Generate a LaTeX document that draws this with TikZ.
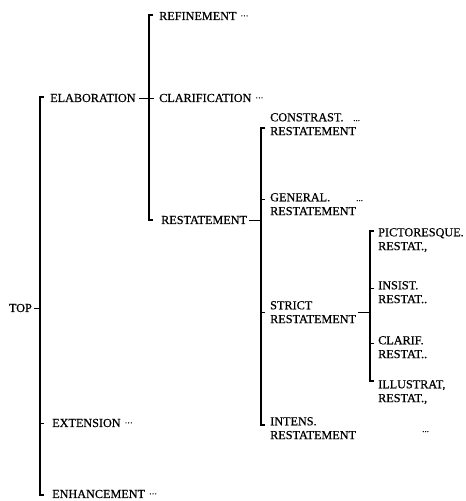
\documentclass[tikz,border=0pt]{standalone}
\usepackage{fontspec}
\setmainfont{Liberation Serif}[FakeBold=0.6]
\newcommand\mydots{\kern4pt\raisebox{1.5pt}{\fontsize{8}{8}\selectfont\char"B7\char"B7\char"B7}}
\begin{document}
\begin{tikzpicture}[x=1pt,y=-1pt,
  lblone/.style={anchor=west,inner sep=0pt,font=\fontsize{12.2}{13.5}\selectfont},
  lbltwo/.style={anchor=north west,inner sep=0pt,align=left,font=\fontsize{12.2}{13.8}\selectfont},
  dotlbl/.style={anchor=base west,inner sep=0pt,font=\fontsize{9}{9}\selectfont},
  bar/.style={line width=1.1pt},
  tick/.style={line width=0.7pt}]
\useasboundingbox (0,0) rectangle (466,501);

% level 0
\node[lblone,anchor=east] (top) at (32,308) {TOP};
\coordinate (b1t) at (40,97);
\coordinate (b1b) at (40,495);
\draw[bar] ([xshift=4pt]b1t) -- (b1t) -- (b1b) -- ([xshift=4pt]b1b);
\draw[tick] ([xshift=2pt]top.east) -- (top.east -| b1t);

% level 1
\node[lblone] (elab) at (50,98) {ELABORATION};
\node[lblone] (ext) at (52,423) {EXTENSION\mydots};
\node[lblone] (enh) at (52,494) {ENHANCEMENT\mydots};
\draw[tick] (ext.west -| b1t) -- ++(4,0);

% level 2
\coordinate (b2t) at (149,15);
\coordinate (b2b) at (149,220);
\draw[bar] ([xshift=4pt]b2t) -- (b2t) -- (b2b) -- ([xshift=4pt]b2b);
\draw[tick] ([xshift=3pt]elab.east) -- ([xshift=5pt]elab.east -| b2t);
\node[lblone] (ref) at (159,16) {REFINEMENT\mydots};
\node[lblone] (cla) at (159,98) {CLARIFICATION\mydots};
\node[lblone] (rst) at (161,220) {RESTATEMENT};

% level 3
\coordinate (b3t) at (261,128);
\coordinate (b3b) at (261,425);
\draw[bar] ([xshift=4pt]b3t) -- (b3t) -- (b3b) -- ([xshift=4pt]b3b);
\draw[tick] ([xshift=2pt]rst.east) -- (rst.east -| b3t);
\node[lbltwo] (con) at (270,113) {CONSTRAST.\\RESTATEMENT};
\node[dotlbl] (condots) at (353,121) {...};
\node[lbltwo] (gen) at (270,193) {GENERAL.\\RESTATEMENT};
\node[dotlbl] (gendots) at (356,201) {...};
\node[lbltwo] (str) at (270,301) {STRICT\\RESTATEMENT};
\node[lbltwo] (int) at (270,417) {INTENS.\\RESTATEMENT};
\node[dotlbl] (intdots) at (422,432) {...};
\coordinate (b3g) at (261,199);
\coordinate (b3s) at (261,312);
\draw[tick] (b3g) -- ++(4,0);
\draw[tick] (b3s) -- ++(4,0);

% level 4
\coordinate (b4t) at (370,231);
\coordinate (b4b) at (370,381);
\draw[bar] ([xshift=4pt]b4t) -- (b4t) -- (b4b) -- ([xshift=4pt]b4b);
\draw[tick] ([xshift=2pt]str.east) -- (str.east -| b4t);
\node[lbltwo] (pic) at (378,228) {PICTORESQUE.\\RESTAT.,};
\node[lbltwo] (ins) at (378,281) {INSIST.\\RESTAT..};
\node[lbltwo] (clf) at (378,336) {CLARIF.\\RESTAT..};
\node[lbltwo] (ill) at (378,380) {ILLUSTRAT,\\RESTAT.,};
\coordinate (b4i) at (370,288);
\coordinate (b4c) at (370,343);
\draw[tick] (b4i) -- ++(4,0);
\draw[tick] (b4c) -- ++(4,0);
\end{tikzpicture}
\end{document}
